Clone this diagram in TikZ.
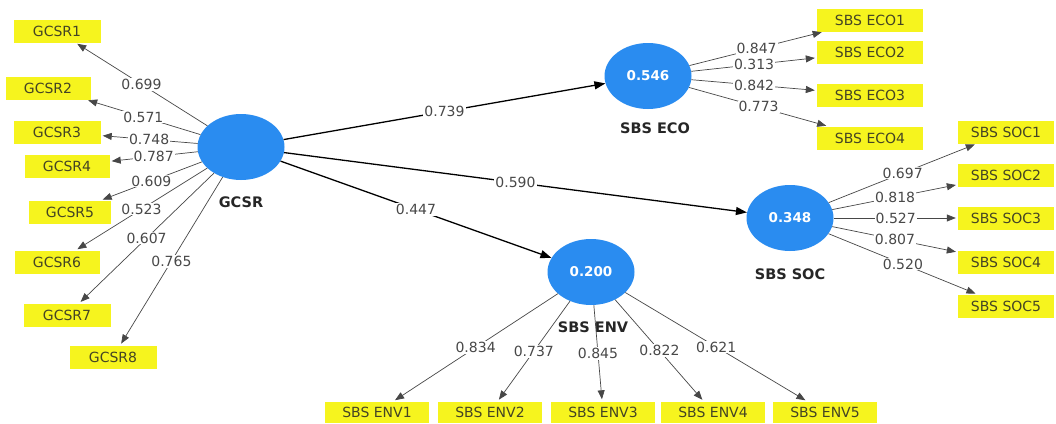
\documentclass[tikz,border=0pt]{standalone}
\usepackage{fontspec}
\setmainfont{DejaVu Sans}
\usetikzlibrary{shapes.geometric,arrows.meta}
\definecolor{lvblue}{RGB}{42,140,240}
\definecolor{indyellow}{RGB}{246,244,30}
\definecolor{indtext}{RGB}{68,68,36}
\definecolor{numtext}{RGB}{72,72,72}
\begin{document}
\begin{tikzpicture}[x=1pt,y=-1pt,
  lv/.style={ellipse, fill=lvblue, minimum width=87pt, minimum height=66pt, inner sep=0pt, text=white, font=\fontsize{13.5}{15}\selectfont\bfseries},
  ind/.style={rectangle, fill=indyellow, minimum height=23pt, inner sep=0pt, text=indtext, font=\fontsize{14}{16}\selectfont},
  lvname/.style={font=\fontsize{14.5}{16}\selectfont\bfseries, text=black!85},
  wt/.style={fill=white, inner sep=1pt, text=numtext, font=\fontsize{14}{16}\selectfont},
  loadarrow/.style={-{Triangle[length=9pt,width=7pt]}, draw=black!72, line width=0.7pt, shorten >=2pt},
  patharrow/.style={-{Triangle[length=11pt,width=8pt]}, draw=black, line width=1.3pt}]
\useasboundingbox[fill=white] (0,0) rectangle (1056,423);
% latent variables
\node[lv] (gcsr) at (241,147) {};
\node[lvname] (gcsrname) at (241,202) {GCSR};
\node[lv] (eco) at (648,76) {0.546};
\node[lvname] (econame) at (655,128) {SBS ECO};
\node[lv] (soc) at (790,218) {0.348};
\node[lvname] (socname) at (790,274) {SBS SOC};
\node[lv] (env) at (591,272) {0.200};
\node[lvname] (envname) at (593,327) {SBS ENV};
% GCSR indicators
\node[ind, minimum width=87pt] (g1) at (57,31) {GCSR1};
\node[ind, minimum width=85pt] (g2) at (48,88) {GCSR2};
\node[ind, minimum width=87pt] (g3) at (57,132) {GCSR3};
\node[ind, minimum width=85pt] (g4) at (67,166) {GCSR4};
\node[ind, minimum width=82pt] (g5) at (70,212) {GCSR5};
\node[ind, minimum width=85pt] (g6) at (57,262) {GCSR6};
\node[ind, minimum width=87pt] (g7) at (67,315) {GCSR7};
\node[ind, minimum width=87pt] (g8) at (113,357) {GCSR8};
% ECO indicators
\node[ind, minimum width=106pt] (e1) at (870,20) {SBS ECO1};
\node[ind, minimum width=106pt] (e2) at (870,52) {SBS ECO2};
\node[ind, minimum width=106pt] (e3) at (870,95) {SBS ECO3};
\node[ind, minimum width=106pt] (e4) at (870,138) {SBS ECO4};
% SOC indicators
\node[ind, minimum width=96pt] (s1) at (1006,132) {SBS SOC1};
\node[ind, minimum width=96pt] (s2) at (1006,175) {SBS SOC2};
\node[ind, minimum width=96pt] (s3) at (1006,218) {SBS SOC3};
\node[ind, minimum width=96pt] (s4) at (1006,262) {SBS SOC4};
\node[ind, minimum width=96pt] (s5) at (1006,306) {SBS SOC5};
% ENV indicators
\node[ind, minimum width=104pt, minimum height=21pt] (n1) at (377,412) {SBS ENV1};
\node[ind, minimum width=104pt, minimum height=21pt] (n2) at (490,412) {SBS ENV2};
\node[ind, minimum width=104pt, minimum height=21pt] (n3) at (603,412) {SBS ENV3};
\node[ind, minimum width=104pt, minimum height=21pt] (n4) at (713,412) {SBS ENV4};
\node[ind, minimum width=104pt, minimum height=21pt] (n5) at (825,412) {SBS ENV5};
% loadings GCSR
\draw[loadarrow] (gcsr) -- node[wt]{0.699} (g1);
\draw[loadarrow] (gcsr) -- node[wt]{0.571} (g2);
\draw[loadarrow] (gcsr) -- node[wt]{0.748} (g3);
\draw[loadarrow] (gcsr) -- node[wt]{0.787} (g4);
\draw[loadarrow] (gcsr) -- node[wt]{0.609} (g5);
\draw[loadarrow] (gcsr) -- node[wt]{0.523} (g6);
\draw[loadarrow] (gcsr) -- node[wt]{0.607} (g7);
\draw[loadarrow] (gcsr) -- node[wt]{0.765} (g8);
% loadings ECO
\draw[loadarrow] (eco) -- node[wt]{0.847} (e1);
\draw[loadarrow] (eco) -- node[wt]{0.313} (e2);
\draw[loadarrow] (eco) -- node[wt]{0.842} (e3);
\draw[loadarrow] (eco) -- node[wt]{0.773} (e4);
% loadings SOC
\draw[loadarrow] (soc) -- node[wt]{0.697} (s1);
\draw[loadarrow] (soc) -- node[wt]{0.818} (s2);
\draw[loadarrow] (soc) -- node[wt]{0.527} (s3);
\draw[loadarrow] (soc) -- node[wt]{0.807} (s4);
\draw[loadarrow] (soc) -- node[wt]{0.520} (s5);
% loadings ENV
\draw[loadarrow] (env) -- node[wt]{0.834} (n1);
\draw[loadarrow] (env) -- node[wt]{0.737} (n2);
\draw[loadarrow] (env) -- node[wt]{0.845} (n3);
\draw[loadarrow] (env) -- node[wt]{0.822} (n4);
\draw[loadarrow] (env) -- node[wt]{0.621} (n5);
% structural paths
\draw[patharrow] (gcsr) -- node[wt]{0.739} (eco);
\draw[patharrow] (gcsr) -- node[wt]{0.590} (soc);
\draw[patharrow] (gcsr) -- node[wt]{0.447} (env);
\end{tikzpicture}
\end{document}
